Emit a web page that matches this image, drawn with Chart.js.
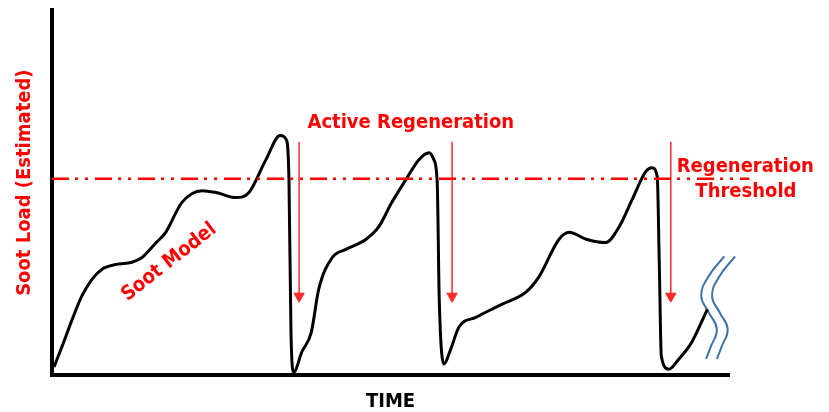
<!DOCTYPE html>
<html><head><meta charset="utf-8">
<script src="https://cdn.jsdelivr.net/npm/chart.js@4.4.1/dist/chart.umd.min.js"></script>
<style>html,body{margin:0;padding:0;background:#fff;overflow:hidden}</style>
</head><body>
<canvas id="c" width="829" height="412"></canvas>
<script>
// ---- data (time and soot load, arbitrary 0-100 units) ----
const timeValues = [0.3, 1.5, 3.0, 4.4, 5.9, 7.4, 9.5, 11.8, 13.3, 15.4, 16.8, 19.2, 22.2, 24.2, 27.2, 29.1, 31.6, 33.7, 34.6, 35.0, 35.3, 35.7,
  36.9, 38.3, 39.4, 41.4, 43.4, 46.4, 48.3, 50.2, 52.3, 54.2, 55.7, 56.4, 56.9, 57.2, 57.9,
  58.9, 60.1, 62.6, 66.5, 70.0, 71.9, 74.9, 76.4, 78.9, 81.8, 83.8, 85.7, 87.7, 88.6, 89.4, 89.7, 90.0, 91.1,
  92.6, 94.5, 96.8];
const sootValues = [2.2, 7.9, 15.3, 21.6, 26.2, 29.0, 30.3, 30.9, 32.2, 36.3, 39.1, 47.3, 50.5, 50.0, 48.6, 50.0, 59.0, 65.6, 64.5, 53.6, 11.7, 0.8,
  6.3, 11.7, 23.5, 32.2, 34.4, 37.2, 40.7, 47.3, 53.6, 59.0, 60.9, 59.0, 52.7, 20.8, 3.0,
  7.1, 13.1, 15.8, 19.4, 22.7, 26.8, 37.2, 39.1, 37.2, 36.3, 40.7, 48.1, 55.7, 56.8, 54.4, 30.9, 5.2, 1.6,
  4.4, 9.0, 18.0];
const thresholdX = [0, 103];
const thresholdLevel = 53.8;
const regenTimes = [36.5, 59.1, 91.4];
const arrowLevels = [63.9, 21.6];
const breakWaveX1 = [99.3, 96.9, 95.9, 97.0, 98.2, 97.3, 96.6];
const breakWaveX2 = [100.9, 98.5, 97.5, 98.6, 99.8, 98.9, 98.2];
const breakWaveY = [32.5, 26.8, 21.6, 17.2, 12.6, 7.7, 4.4];
const yTitle = 'Soot Load (Estimated)';
const xTitle = 'TIME';

// ---- annotation texts (placed in data units) ----
const notes = [
  {text: 'Active Regeneration', x: 53.0, y: 69.1, angle: 0},
  {text: 'Regeneration', x: 102.4, y: 57.1, angle: 0},
  {text: 'Threshold', x: 102.5, y: 50.3, angle: 0},
  {text: 'Soot Model', x: 17.3, y: 30.9, angle: -38}
];

const RED = '#ff0000';
const FONT = '"DejaVu Sans Condensed", "DejaVu Sans", Verdana, sans-serif';

const pts = (xs, ys) => xs.map((x, i) => ({x, y: ys[i]}));

const datasets = [];
datasets.push({
  data: pts(thresholdX, [thresholdLevel, thresholdLevel]),
  borderColor: RED, borderWidth: 2.5, borderDash: [17, 6, 3, 7, 3, 7],
  pointRadius: 0, tension: 0, clip: false
});
regenTimes.forEach(t => datasets.push({
  data: pts([t, t], arrowLevels),
  borderColor: '#ff2a2a', backgroundColor: '#ff2a2a', borderWidth: 1.5,
  pointRadius: [0, 6], pointStyle: 'triangle', pointRotation: 180,
  pointBorderWidth: 1, pointBorderColor: '#ff2a2a', pointBackgroundColor: '#ff2a2a',
  tension: 0, clip: false
}));
datasets.push({
  data: pts(timeValues, sootValues),
  borderColor: '#000', borderWidth: 3, pointRadius: 0,
  cubicInterpolationMode: 'monotone', clip: false
});
[breakWaveX1, breakWaveX2].forEach(xs => datasets.push({
  data: pts(xs, breakWaveY),
  borderColor: '#3f72a8', borderWidth: 2, pointRadius: 0, tension: 0.45, clip: false
}));

const textPlugin = {
  id: 'notes',
  afterDatasetsDraw(chart) {
    const {ctx, scales: {x, y}, chartArea} = chart;
    ctx.save();
    ctx.fillStyle = RED;
    ctx.font = 'bold 20px ' + FONT;
    ctx.textAlign = 'center';
    ctx.textBaseline = 'middle';
    notes.forEach(n => {
      ctx.save();
      ctx.translate(x.getPixelForValue(n.x), y.getPixelForValue(n.y));
      ctx.rotate(n.angle * Math.PI / 180);
      ctx.fillText(n.text, 0, 0);
      ctx.restore();
    });
    ctx.save();
    ctx.translate(chartArea.left - 27, y.getPixelForValue(52.7));
    ctx.rotate(-Math.PI / 2);
    ctx.fillText(yTitle, 0, 0);
    ctx.restore();
    ctx.restore();
  }
};

new Chart(document.getElementById('c'), {
  type: 'line',
  data: {datasets},
  plugins: [textPlugin],
  options: {
    responsive: false, animation: false, devicePixelRatio: 1,
    layout: {padding: {left: 0, top: 10, right: 100, bottom: 0}},
    plugins: {legend: {display: false}, tooltip: {enabled: false}},
    scales: {
      x: {
        type: 'linear', min: 0, max: 100,
        grid: {display: false, drawTicks: false},
        border: {display: true, color: '#000', width: 4},
        ticks: {display: false},
        title: {display: true, text: xTitle, color: '#000',
          font: {family: FONT, size: 20, weight: 'bold', lineHeight: 1}, padding: 0},
        afterFit: s => { s.height = 37; }
      },
      y: {
        type: 'linear', min: 0, max: 100,
        grid: {display: false, drawTicks: false},
        border: {display: true, color: '#000', width: 4},
        ticks: {display: false},
        afterFit: s => { s.width = 52; }
      }
    }
  }
});
</script>
</body></html>
